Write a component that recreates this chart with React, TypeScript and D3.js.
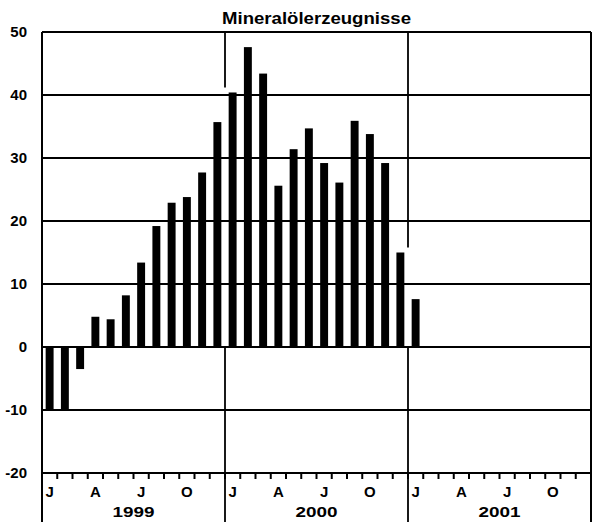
import React from "react";
import * as d3 from "d3";

// monthly values, Jan 1999 .. Jan 2001
const values = [
  -9.9, -9.9, -3.5, 4.8, 4.4, 8.2, 13.4, 19.2, 22.9, 23.8, 27.7, 35.7,
  40.4, 47.6, 43.4, 25.6, 31.4, 34.7, 29.2, 26.1, 35.9, 33.8, 29.2, 15.0,
  7.6,
];
const years = ["1999", "2000", "2001"];
const quarterLabels = ["J", "A", "J", "O"];
const yTicks = [-20, -10, 0, 10, 20, 30, 40, 50];
const title = "Mineralölerzeugnisse";

const W = 600;
const H = 522;
const m = { left: 42, right: 9, top: 32, bottom: 49 };
const font = "'Liberation Sans', Arial, Helvetica, sans-serif";

const App: React.FC = () => {
  const months = d3.range(years.length * 12);
  const x = d3
    .scaleBand<number>()
    .domain(months)
    .range([m.left, W - m.right])
    .paddingInner(0.48)
    .paddingOuter(0.24);
  const step = x.step();
  const slotStart = (i: number) => x(i)! - x.paddingOuter() * step;
  const y = d3
    .scaleLinear()
    .domain([-20, 50])
    .range([H - m.bottom, m.top]);

  const bottom = y(-20);
  const yearEdges = d3.range(years.length + 1).map((k) =>
    k === years.length ? W - m.right : slotStart(k * 12)
  );

  return (
    <svg
      width={W}
      height={H}
      style={{ position: "absolute", left: 0, top: 0, display: "block", background: "#fff" }}
    >
      <text
        x={(m.left + W - m.right) / 2}
        y={24}
        textAnchor="middle"
        fontFamily={font}
        fontWeight="bold"
        fontSize={17}
        textLength={189}
        lengthAdjust="spacingAndGlyphs"
      >
        {title}
      </text>

      {/* horizontal grid */}
      {yTicks.map((t) => (
        <line
          key={t}
          x1={m.left}
          x2={W - m.right}
          y1={y(t)}
          y2={y(t)}
          stroke="#000"
          strokeWidth={t === -20 ? 2.2 : 1.8}
        />
      ))}
      {yTicks.map((t) => (
        <text
          key={"l" + t}
          x={27}
          y={y(t)}
          dy="0.36em"
          textAnchor="end"
          fontFamily={font}
          fontWeight="bold"
          fontSize={15}
        >
          {t}
        </text>
      ))}

      {/* year separators, interrupted above neighbouring bars */}
      {yearEdges.map((xe, k) => {
        const inner = k > 0 && k < years.length;
        if (!inner) {
          return (
            <line key={"e" + k} x1={xe} x2={xe} y1={m.top} y2={H} stroke="#000" strokeWidth={2} />
          );
        }
        const adj = [values[k * 12 - 1], values[k * 12]].filter((v) => v !== undefined);
        const gapTop = y(d3.max(adj) ?? 0) - 5;
        return (
          <g key={"e" + k}>
            <line x1={xe} x2={xe} y1={m.top} y2={gapTop} stroke="#000" strokeWidth={1.8} />
            <line x1={xe} x2={xe} y1={y(0)} y2={H} stroke="#000" strokeWidth={1.8} />
          </g>
        );
      })}

      {/* bars */}
      {values.map((v, i) => (
        <rect
          key={"b" + i}
          x={x(i)}
          width={x.bandwidth()}
          y={y(Math.max(0, v))}
          height={Math.abs(y(v) - y(0))}
          fill="#000"
        />
      ))}
      <line x1={m.left} x2={W - m.right} y1={y(0)} y2={y(0)} stroke="#000" strokeWidth={2.2} />

      {/* month ticks */}
      {months.slice(1).map((i) => (
        <line
          key={"t" + i}
          x1={slotStart(i)}
          x2={slotStart(i)}
          y1={bottom}
          y2={bottom + 6}
          stroke="#000"
          strokeWidth={2}
        />
      ))}
      {months
        .filter((i) => i % 3 === 0)
        .map((i) => (
          <text
            key={"q" + i}
            x={x(i)! + x.bandwidth() / 2}
            y={497}
            textAnchor="middle"
            fontFamily={font}
            fontWeight="bold"
            fontSize={15}
          >
            {quarterLabels[(i % 12) / 3]}
          </text>
        ))}
      {years.map((yr, k) => (
        <text
          key={yr}
          x={(yearEdges[k] + yearEdges[k + 1]) / 2}
          y={517}
          textAnchor="middle"
          fontFamily={font}
          fontWeight="bold"
          fontSize={15}
          textLength={42}
          lengthAdjust="spacingAndGlyphs"
        >
          {yr}
        </text>
      ))}
    </svg>
  );
};

export default App;
